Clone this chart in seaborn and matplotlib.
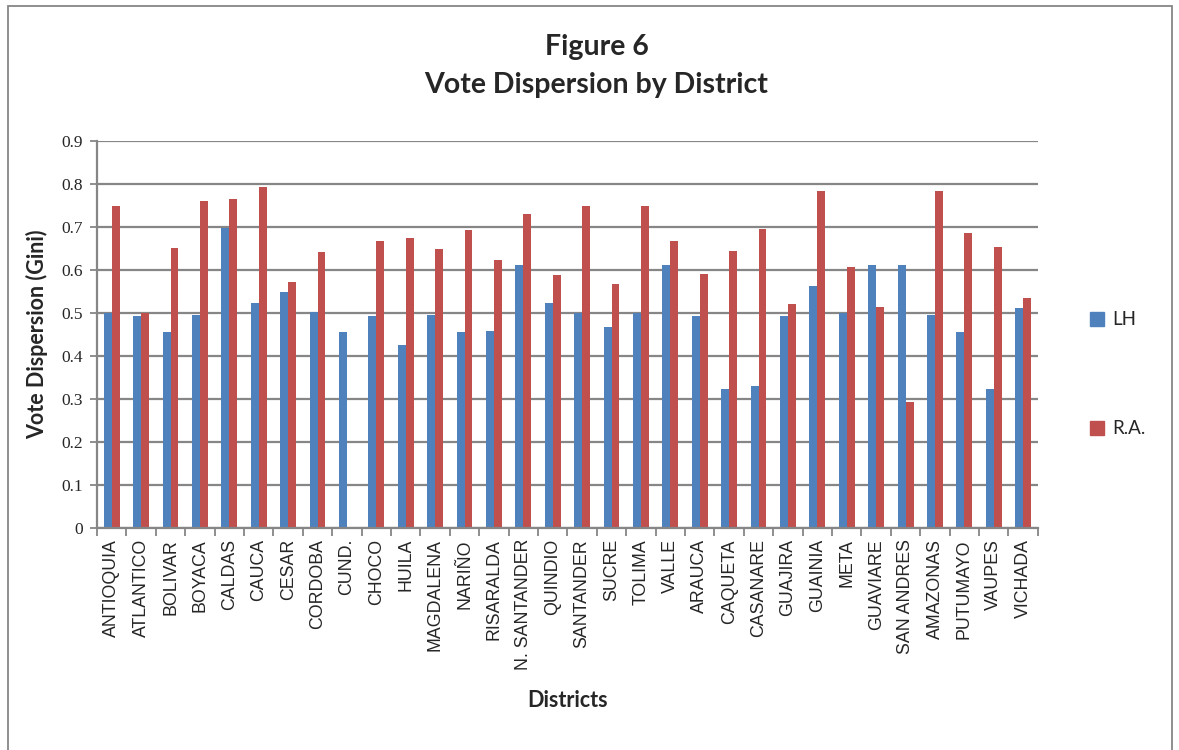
"""Figure 6: vote dispersion (Gini) by district, LH vs R.A."""

import numpy as np
import pandas as pd
import matplotlib.pyplot as plt
import matplotlib.patches as mpatches
from matplotlib.ticker import FixedLocator
import seaborn as sns

districts = [
    "ANTIOQUIA", "ATLANTICO", "BOLIVAR", "BOYACA", "CALDAS", "CAUCA", "CESAR",
    "CORDOBA", "CUND.", "CHOCO", "HUILA", "MAGDALENA", "NARIÑO", "RISARALDA",
    "N. SANTANDER", "QUINDIO", "SANTANDER", "SUCRE", "TOLIMA", "VALLE",
    "ARAUCA", "CAQUETA", "CASANARE", "GUAJIRA", "GUAINIA", "META", "GUAVIARE",
    "SAN ANDRES", "AMAZONAS", "PUTUMAYO", "VAUPES", "VICHADA",
]
lh = [
    0.501, 0.492, 0.456, 0.495, 0.697, 0.523, 0.550, 0.503, 0.456, 0.492,
    0.426, 0.495, 0.456, 0.458, 0.612, 0.523, 0.501, 0.467, 0.501, 0.612,
    0.492, 0.324, 0.330, 0.492, 0.563, 0.501, 0.612, 0.612, 0.495, 0.456,
    0.324, 0.512,
]
ra = [
    0.748, 0.500, 0.652, 0.761, 0.764, 0.792, 0.573, 0.642, 0.0, 0.668,
    0.675, 0.649, 0.694, 0.623, 0.731, 0.588, 0.748, 0.568, 0.748, 0.668,
    0.590, 0.644, 0.695, 0.522, 0.783, 0.607, 0.515, 0.293, 0.783, 0.686,
    0.654, 0.535,
]
series = ["LH", "R.A."]
colors = ["#4F81BD", "#C0504D"]
y_ticks = [0, 0.1, 0.2, 0.3, 0.4, 0.5, 0.6, 0.7, 0.8, 0.9]

df = pd.DataFrame({
    "District": districts * 2,
    "Series": ["LH"] * len(districts) + ["R.A."] * len(districts),
    "Gini": lh + ra,
})

grid_col = "#868686"
sns.set_style("white")
plt.rcParams["font.family"] = ["Liberation Sans", "DejaVu Sans"]

fig = plt.figure(figsize=(11.79, 7.5), dpi=100)
ax = fig.add_axes([0.0823, 0.296, 0.798, 0.516])

sns.barplot(
    data=df, x="District", y="Gini", hue="Series", order=districts,
    hue_order=series, palette=colors, width=0.54, saturation=1,
    linewidth=0, ax=ax, legend=False,
)

ax.set_ylim(0, 0.9)
ax.set_xlim(-0.5, len(districts) - 0.5)
ax.set_yticks(y_ticks)
ax.set_yticklabels([f"{t:g}" for t in y_ticks], family="Liberation Serif",
                   fontsize=12.5)
ax.yaxis.grid(True, color=grid_col, linewidth=1.6)
ax.set_axisbelow(True)

ax.set_xticks(range(len(districts)))
ax.set_xticklabels(districts, rotation=90, fontsize=12.8)
ax.xaxis.set_minor_locator(FixedLocator(np.arange(-0.5, len(districts), 1)))
ax.tick_params(axis="x", which="major", length=0, pad=8)
ax.tick_params(axis="x", which="minor", length=6, width=1.3, color=grid_col,
               direction="out", bottom=True)
ax.tick_params(axis="y", length=5, width=1.3, color=grid_col, direction="out",
               left=True, pad=5)

for side in ["top", "right"]:
    ax.spines[side].set_visible(False)
for side in ["left", "bottom"]:
    ax.spines[side].set_color(grid_col)
    ax.spines[side].set_linewidth(1.6)

ax.set_xlabel("Districts", fontsize=15.5, fontweight="bold", family="Lato",
              labelpad=14)
ax.set_ylabel("Vote Dispersion (Gini)", fontsize=15.5, fontweight="bold",
              family="Lato", labelpad=10)

fig.text(0.506, 0.937, "Figure 6", ha="center", va="center", fontsize=20.5,
         fontweight="bold", family="Lato")
fig.text(0.506, 0.886, "Vote Dispersion by District", ha="center",
         va="center", fontsize=20.5, fontweight="bold", family="Lato")

handles = [mpatches.Patch(color=c, label=s) for c, s in zip(colors, series)]
fig.legend(handles=handles, loc="center left", bbox_to_anchor=(0.91, 0.501),
           frameon=False, labelspacing=4.9, handlelength=0.75,
           handleheight=0.75, handletextpad=0.45,
           prop={"family": "Lato", "size": 13.5})

fig.patches.append(mpatches.Rectangle(
    (0.007, -0.01), 0.987, 1.002, transform=fig.transFigure, fill=False,
    edgecolor=grid_col, linewidth=1.3))

fig.savefig("out.png", dpi=100)
